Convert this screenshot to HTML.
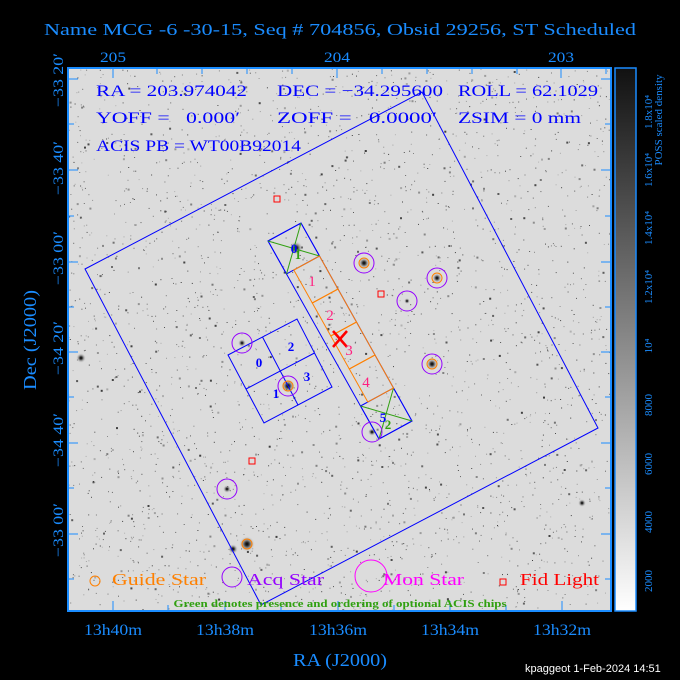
<!DOCTYPE html>
<html><head><meta charset="utf-8"><style>
html,body{margin:0;padding:0;background:#000;}
svg{display:block;}
text{font-family:"Liberation Serif",serif;}
</style></head><body>
<svg id="s" width="680" height="680" viewBox="0 0 680 680" xmlns="http://www.w3.org/2000/svg">
<defs>
<linearGradient id="cb" x1="0" y1="0" x2="0" y2="1">
<stop offset="0" stop-color="#111"/><stop offset="0.5" stop-color="#888"/><stop offset="1" stop-color="#fff"/>
</linearGradient>
<clipPath id="pc"><rect x="68" y="68" width="543" height="543"/></clipPath>
<radialGradient id="glow"><stop offset="0" stop-color="#000"/><stop offset="0.25" stop-color="#333"/><stop offset="1" stop-color="#dcdcdc" stop-opacity="0"/></radialGradient>
</defs>
<rect width="680" height="680" fill="#000"/>
<text x="340" y="35" fill="#1a8cff" font-size="17" text-anchor="middle" textLength="592" lengthAdjust="spacingAndGlyphs">Name MCG -6 -30-15, Seq # 704856, Obsid 29256, ST Scheduled</text>
<rect x="68" y="68" width="543" height="543" fill="#dcdcdc"/>
<g id="dots" clip-path="url(#pc)"></g>
<g clip-path="url(#pc)">
<circle cx="364" cy="263" r="6" fill="url(#glow)"/>
<circle cx="437" cy="278" r="5" fill="url(#glow)"/>
<circle cx="432" cy="364" r="6" fill="url(#glow)"/>
<circle cx="288" cy="386" r="7" fill="url(#glow)"/>
<circle cx="247" cy="544" r="8" fill="url(#glow)"/>
<circle cx="233" cy="549" r="5" fill="url(#glow)"/>
<circle cx="296" cy="248" r="7" fill="url(#glow)"/>
<circle cx="81" cy="358" r="5" fill="url(#glow)"/>
<circle cx="372" cy="432" r="4" fill="url(#glow)"/>
<circle cx="242" cy="343" r="4" fill="url(#glow)"/>
<circle cx="227" cy="489" r="4" fill="url(#glow)"/>
<circle cx="407" cy="301" r="3" fill="url(#glow)"/>
<circle cx="582" cy="503" r="4" fill="url(#glow)"/>
</g>
<rect x="68" y="68" width="543" height="543" fill="none" stroke="#1a8cff" stroke-width="2"/>
<g stroke="#1a8cff" stroke-width="1" id="ticks"></g>
<g fill="#1a8cff" font-size="15" text-anchor="middle">
<text x="113" y="62" textLength="26" lengthAdjust="spacingAndGlyphs">205</text><text x="337" y="62" textLength="26" lengthAdjust="spacingAndGlyphs">204</text><text x="561" y="62" textLength="26" lengthAdjust="spacingAndGlyphs">203</text>
</g>
<g fill="#1a8cff" font-size="16" text-anchor="middle">
<text x="113" y="635" textLength="58" lengthAdjust="spacingAndGlyphs">13h40m</text><text x="225" y="635" textLength="58" lengthAdjust="spacingAndGlyphs">13h38m</text><text x="338" y="635" textLength="58" lengthAdjust="spacingAndGlyphs">13h36m</text><text x="450" y="635" textLength="58" lengthAdjust="spacingAndGlyphs">13h34m</text><text x="562" y="635" textLength="58" lengthAdjust="spacingAndGlyphs">13h32m</text>
<text x="340" y="666" font-size="18" textLength="94" lengthAdjust="spacingAndGlyphs">RA (J2000)</text>
</g>
<g fill="#1a8cff" font-size="15" text-anchor="middle">
<text transform="translate(63,80) rotate(-90)" textLength="54" lengthAdjust="spacingAndGlyphs">−33 20′</text>
<text transform="translate(63,168) rotate(-90)" textLength="54" lengthAdjust="spacingAndGlyphs">−33 40′</text>
<text transform="translate(63,258) rotate(-90)" textLength="54" lengthAdjust="spacingAndGlyphs">−33 00′</text>
<text transform="translate(63,348) rotate(-90)" textLength="54" lengthAdjust="spacingAndGlyphs">−34 20′</text>
<text transform="translate(63,440) rotate(-90)" textLength="54" lengthAdjust="spacingAndGlyphs">−34 40′</text>
<text transform="translate(63,530) rotate(-90)" textLength="54" lengthAdjust="spacingAndGlyphs">−33 00′</text>
<text transform="translate(36,340) rotate(-90)" font-size="18" textLength="100" lengthAdjust="spacingAndGlyphs">Dec (J2000)</text>
</g>
<rect x="615" y="68" width="21" height="543" fill="url(#cb)" stroke="#1a8cff" stroke-width="1.5"/>
<g fill="#1a8cff" font-size="11" text-anchor="middle">
<text transform="translate(652,581) rotate(-90)">2000</text>
<text transform="translate(652,522) rotate(-90)">4000</text>
<text transform="translate(652,464) rotate(-90)">6000</text>
<text transform="translate(652,405) rotate(-90)">8000</text>
<text transform="translate(652,346) rotate(-90)">10⁴</text>
<text transform="translate(652,287) rotate(-90)">1.2x10⁴</text>
<text transform="translate(652,228) rotate(-90)">1.4x10⁴</text>
<text transform="translate(652,170) rotate(-90)">1.6x10⁴</text>
<text transform="translate(652,112) rotate(-90)">1.8x10⁴</text>
<text transform="translate(662,120) rotate(-90)">POSS scaled density</text>
</g>
<g fill="#0000ff" font-size="16" lengthAdjust="spacingAndGlyphs">
<text x="96" y="96" textLength="151" lengthAdjust="spacingAndGlyphs">RA = 203.974042</text>
<text x="277" y="96" textLength="166" lengthAdjust="spacingAndGlyphs">DEC = −34.295600</text>
<text x="458" y="96" textLength="140" lengthAdjust="spacingAndGlyphs">ROLL = 62.1029</text>
<text x="96" y="123" xml:space="preserve" textLength="144" lengthAdjust="spacingAndGlyphs">YOFF =   0.000′</text>
<text x="277" y="123" xml:space="preserve" textLength="160" lengthAdjust="spacingAndGlyphs">ZOFF =   0.0000′</text>
<text x="458" y="123" textLength="123" lengthAdjust="spacingAndGlyphs">ZSIM = 0 mm</text>
<text x="96" y="151" textLength="205" lengthAdjust="spacingAndGlyphs">ACIS PB = WT00B92014</text>
</g>
<g clip-path="url(#pc)" fill="none">
<polygon points="85,269 422,92 598,428 261,605" stroke="#0000ff" stroke-width="1"/>
<polygon points="228,355 297,319 332,387 264,423" stroke="#0000ff"/>
<line x1="262.5" y1="337" x2="298" y2="405" stroke="#0000ff"/>
<line x1="246" y1="389" x2="314.5" y2="353" stroke="#0000ff"/>
<g id="strip"></g>
<line x1="333" y1="331" x2="347" y2="347" stroke="#ff0000" stroke-width="2.5"/>
<line x1="333" y1="347" x2="347" y2="331" stroke="#ff0000" stroke-width="2.5"/>
<g stroke="#9400ff" stroke-width="1">
<circle cx="364" cy="263" r="10"/><circle cx="437" cy="278" r="10"/><circle cx="407" cy="301" r="10"/>
<circle cx="432" cy="364" r="10"/><circle cx="242" cy="343" r="10"/><circle cx="288" cy="386" r="10"/>
<circle cx="372" cy="432" r="10"/><circle cx="227" cy="489" r="10"/>
</g>
<g stroke="#ff8000" stroke-width="1">
<circle cx="364" cy="263" r="5"/><circle cx="437" cy="278" r="5"/><circle cx="432" cy="364" r="5"/>
<circle cx="288" cy="386" r="5"/><circle cx="247" cy="544" r="5"/>
</g>
<g stroke="#ff0000" stroke-width="1">
<rect x="274" y="196" width="6" height="6"/><rect x="378" y="291" width="6" height="6"/><rect x="249" y="458" width="6" height="6"/>
</g>
</g>
<g font-size="15" fill="#ff2080" text-anchor="middle">
<text x="312" y="286">1</text><text x="330" y="320">2</text><text x="349" y="355">3</text><text x="366" y="387">4</text>
</g>
<g font-size="13" fill="#0000ff" text-anchor="middle" font-weight="bold">
<text x="259" y="367">0</text><text x="291" y="351">2</text><text x="307" y="381">3</text><text x="276" y="398">1</text>
<text x="294" y="253">0</text><text x="383" y="422">5</text>
</g>
<g font-size="13" fill="#30a010" text-anchor="middle" font-weight="bold">
<text x="298" y="259">1</text><text x="388" y="429">2</text>
</g>
<g font-size="17">
<circle cx="95" cy="581" r="5" fill="none" stroke="#ff8000"/>
<text x="112" y="585" fill="#ff8000" textLength="94" lengthAdjust="spacingAndGlyphs">Guide Star</text>
<circle cx="232" cy="577" r="10" fill="none" stroke="#9400ff"/>
<text x="247" y="585" fill="#9400ff" textLength="77" lengthAdjust="spacingAndGlyphs">Acq Star</text>
<circle cx="371" cy="576" r="16" fill="none" stroke="#ff00ff"/>
<text x="383" y="585" fill="#ff00ff" textLength="81" lengthAdjust="spacingAndGlyphs">Mon Star</text>
<rect x="500" y="579" width="6" height="6" fill="none" stroke="#ff0000"/>
<text x="520" y="585" fill="#ff0000" textLength="79" lengthAdjust="spacingAndGlyphs">Fid Light</text>
</g>
<text x="340" y="607" fill="#30a010" font-size="10" font-weight="bold" text-anchor="middle" textLength="333" lengthAdjust="spacingAndGlyphs">Green denotes presence and ordering of optional ACIS chips</text>
<text x="525" y="672" fill="#fff" font-size="11" style="font-family:'Liberation Sans',sans-serif">kpaggeot  1-Feb-2024 14:51</text>
</svg>
<script>
(function(){
var NS="http://www.w3.org/2000/svg";
function el(t,a,p){var e=document.createElementNS(NS,t);for(var k in a)e.setAttribute(k,a[k]);p.appendChild(e);return e;}
var seed=12345;function r(){seed=(seed*1103515245+12345)%2147483648;return seed/2147483648;}
var g=document.getElementById('dots');
for(var i=0;i<3000;i++){var x=68+r()*543,y=68+r()*543;var c=Math.floor(60+r()*120);var s=r()<0.88?1:2;
el('rect',{x:x.toFixed(1),y:y.toFixed(1),width:s,height:s,fill:'rgb('+c+','+c+','+c+')'},g);}
var t=document.getElementById('ticks');
function L(a,b,c,d){el('line',{x1:a,y1:b,x2:c,y2:d},t);}
[113,157,202,247,292,337,382,427,472,517,561,606].forEach(function(x,i){L(x,68,x,68+(i%5==0?10:6));});
[113,168,225,281,338,394,450,506,562].forEach(function(x,i){L(x,611,x,611-(i%2==0?10:6));});
[79,124,170,216,262,307,352,397,443,488,534,579].forEach(function(y,i){L(68,y,68+(i%2==0?10:6),y);L(611,y,611-(i%2==0?10:6),y);});
[82,140,198,256,314,372,430,488,546,604].forEach(function(y){L(615,y,619,y);L(636,y,632,y);});
[111,170,228,287,346,405,464,522,581].forEach(function(y){L(615,y,621,y);L(636,y,630,y);});
var s=document.getElementById('strip');
var P0=[268,241],u=[18.5,33],w=[33,-18];
function pt(k,f){return [P0[0]+k*u[0]+f*w[0],P0[1]+k*u[1]+f*w[1]];}
function poly(pts,col){el('polygon',{points:pts.map(function(p){return p[0].toFixed(1)+','+p[1].toFixed(1);}).join(' '),stroke:col,fill:'none'},s);}
poly([pt(0,0),pt(0,1),pt(6,1),pt(6,0)],'#0000ff');
poly([pt(0,0),pt(0,1),pt(1,1),pt(1,0)],'#0000ff');
poly([pt(5,0),pt(5,1),pt(6,1),pt(6,0)],'#0000ff');
[0,5].forEach(function(k){var a=pt(k,0),b=pt(k+1,1),c=pt(k,1),d=pt(k+1,0);
el('line',{x1:a[0],y1:a[1],x2:b[0],y2:b[1],stroke:'#30a010'},s);el('line',{x1:c[0],y1:c[1],x2:d[0],y2:d[1],stroke:'#30a010'},s);});
for(var k=1;k<5;k++){poly([pt(k,0.22),pt(k,1),pt(k+1,1),pt(k+1,0.22)],'#ff8000');}
})();
</script>
</body></html>
